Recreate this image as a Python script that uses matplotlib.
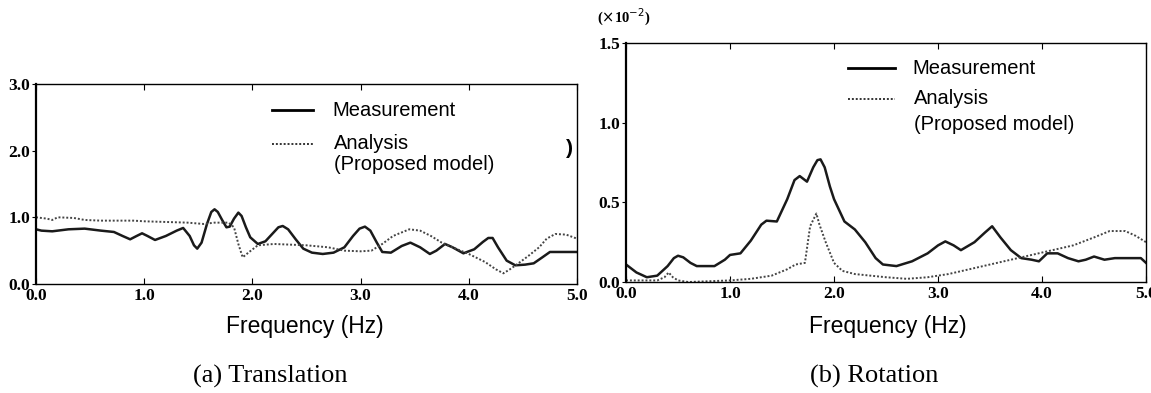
import matplotlib
matplotlib.use("Agg")
import matplotlib.pyplot as plt

# (a) Translation
trans_meas_f = [0.0, 0.05, 0.15, 0.3, 0.45, 0.6, 0.72, 0.8, 0.87, 0.93, 0.98, 1.03, 1.1,
                1.2, 1.3, 1.36, 1.42, 1.46, 1.49, 1.53, 1.58, 1.62, 1.65, 1.68, 1.72, 1.76,
                1.79, 1.83, 1.87, 1.9, 1.94, 1.98, 2.05, 2.12, 2.2, 2.24, 2.28, 2.33, 2.4,
                2.47, 2.55, 2.65, 2.75, 2.85, 2.93, 2.99, 3.04, 3.09, 3.15, 3.2, 3.28, 3.38,
                3.46, 3.55, 3.64, 3.7, 3.78, 3.85, 3.95, 4.05, 4.13, 4.18, 4.22, 4.27, 4.35,
                4.43, 4.52, 4.6, 4.68, 4.75, 4.85, 5.0]
trans_meas = [0.82, 0.80, 0.79, 0.82, 0.83, 0.80, 0.78, 0.72, 0.67, 0.72, 0.76, 0.72, 0.66,
              0.72, 0.80, 0.84, 0.72, 0.58, 0.53, 0.62, 0.90, 1.08, 1.12, 1.08, 0.96, 0.85,
              0.86, 0.98, 1.07, 1.02, 0.85, 0.70, 0.60, 0.64, 0.78, 0.85, 0.87, 0.82, 0.67,
              0.53, 0.47, 0.45, 0.47, 0.55, 0.72, 0.83, 0.86, 0.80, 0.62, 0.48, 0.47, 0.57,
              0.62, 0.55, 0.45, 0.50, 0.60, 0.55, 0.46, 0.52, 0.63, 0.69, 0.69, 0.55, 0.35,
              0.28, 0.29, 0.31, 0.40, 0.48, 0.48, 0.48]

trans_anal_f = [0.0, 0.1, 0.15, 0.2, 0.35, 0.45, 0.6, 0.9, 1.0, 1.2, 1.4, 1.55, 1.65, 1.78,
                1.83, 1.87, 1.91, 1.97, 2.05, 2.2, 2.5, 2.7, 2.85, 3.0, 3.1, 3.2, 3.3, 3.45,
                3.55, 3.65, 3.75, 3.85, 4.0, 4.15, 4.25, 4.32, 4.38, 4.45, 4.55, 4.65, 4.72,
                4.8, 4.9, 5.0]
trans_anal = [1.0, 0.98, 0.96, 1.0, 0.99, 0.96, 0.95, 0.95, 0.94, 0.93, 0.92, 0.90, 0.92, 0.92,
              0.85, 0.60, 0.40, 0.48, 0.58, 0.60, 0.58, 0.55, 0.50, 0.49, 0.50, 0.60, 0.72, 0.82,
              0.80, 0.72, 0.62, 0.55, 0.45, 0.33, 0.22, 0.16, 0.22, 0.30, 0.42, 0.55, 0.68,
              0.75, 0.74, 0.68]

# (b) Rotation (x 10^-2)
rot_meas_f = [0.0, 0.1, 0.2, 0.3, 0.4, 0.46, 0.5, 0.55, 0.62, 0.68, 0.85, 0.95, 1.0, 1.1, 1.2,
              1.3, 1.35, 1.45, 1.55, 1.62, 1.67, 1.74, 1.8, 1.84, 1.87, 1.91, 1.96, 2.0, 2.1,
              2.2, 2.3, 2.4, 2.47, 2.6, 2.75, 2.9, 3.0, 3.07, 3.15, 3.22, 3.35, 3.45, 3.52,
              3.6, 3.7, 3.8, 3.9, 3.97, 4.05, 4.15, 4.25, 4.35, 4.42, 4.5, 4.6, 4.7, 4.8,
              4.95, 5.0]
rot_meas = [0.11, 0.06, 0.03, 0.04, 0.10, 0.15, 0.165, 0.155, 0.12, 0.10, 0.10, 0.14, 0.17,
            0.18, 0.26, 0.36, 0.385, 0.38, 0.52, 0.64, 0.665, 0.63, 0.72, 0.765, 0.77, 0.72,
            0.60, 0.52, 0.38, 0.33, 0.25, 0.15, 0.11, 0.10, 0.13, 0.18, 0.23, 0.255, 0.23,
            0.20, 0.25, 0.31, 0.35, 0.28, 0.20, 0.15, 0.14, 0.13, 0.18, 0.18, 0.15, 0.13,
            0.14, 0.16, 0.14, 0.15, 0.15, 0.15, 0.12]

rot_anal_f = [0.0, 0.3, 0.37, 0.41, 0.45, 0.5, 0.6, 1.0, 1.2, 1.4, 1.55, 1.63, 1.72, 1.77, 1.83,
              1.86, 1.92, 2.0, 2.08, 2.2, 2.5, 2.7, 2.9, 3.1, 3.3, 3.5, 3.7, 3.9, 4.1, 4.3, 4.5,
              4.65, 4.8, 4.9, 5.0]
rot_anal = [0.01, 0.01, 0.03, 0.06, 0.03, 0.01, 0.0, 0.01, 0.02, 0.04, 0.08, 0.11, 0.12, 0.35,
            0.43, 0.36, 0.25, 0.12, 0.07, 0.05, 0.03, 0.02, 0.03, 0.05, 0.08, 0.11, 0.14, 0.17,
            0.20, 0.23, 0.28, 0.32, 0.32, 0.29, 0.25]

x_ticks = [0.0, 1.0, 2.0, 3.0, 4.0, 5.0]
trans_yticks = [0.0, 1.0, 2.0, 3.0]
rot_yticks = [0.0, 0.5, 1.0, 1.5]

serif = "Liberation Serif"
sans = "Liberation Sans"

fig = plt.figure(figsize=(11.51, 3.93), dpi=100)
ax1 = fig.add_axes([0.0313, 0.2774, 0.470, 0.509])
ax2 = fig.add_axes([0.5439, 0.2824, 0.4518, 0.608])


def style(ax, yticks, ymax):
    ax.set_xlim(0, 5)
    ax.set_ylim(0, ymax)
    ax.set_xticks(x_ticks)
    ax.set_yticks(yticks)
    ax.set_xticklabels(["%.1f" % t for t in x_ticks], fontfamily=serif,
                       fontweight="bold", fontsize=12.5)
    ax.set_yticklabels(["%.1f" % t for t in yticks], fontfamily=serif,
                       fontweight="bold", fontsize=12.5)
    ax.tick_params(axis="x", direction="in", length=4, pad=3, top=True)
    ax.tick_params(axis="y", direction="out", length=3, pad=1)
    for s in ax.spines.values():
        s.set_linewidth(1.0)
    ax.spines["left"].set_linewidth(1.6)


ax1.plot(trans_meas_f, trans_meas, color="#1a1a1a", lw=1.8)
ax1.plot(trans_anal_f, trans_anal, color="#444444", lw=1.4, linestyle=(0, (1, 1)))
style(ax1, trans_yticks, 3.0)

ax2.plot(rot_meas_f, rot_meas, color="#1a1a1a", lw=1.8)
ax2.plot(rot_anal_f, rot_anal, color="#444444", lw=1.4, linestyle=(0, (1, 1)))
style(ax2, rot_yticks, 1.5)


def px(x, y):
    return x / 1151.0, 1 - y / 393.0


def legend(x_line0, x_line1, x_text, y_meas, y_anal, y_model):
    fig.add_artist(plt.Line2D([px(x_line0, 0)[0], px(x_line1, 0)[0]],
                              [px(0, y_meas)[1]] * 2, color="black", lw=2))
    fig.add_artist(plt.Line2D([px(x_line0, 0)[0], px(x_line1, 0)[0]],
                              [px(0, y_anal)[1]] * 2, color="#333333", lw=1.4,
                              linestyle=(0, (1, 1))))
    fig.text(*px(x_text, y_meas), "Measurement", fontfamily=sans, fontsize=14.5, va="center")
    fig.text(*px(x_text + 2, y_anal), "Analysis", fontfamily=sans, fontsize=14.5, va="center")
    fig.text(*px(x_text + 2, y_model), "(Proposed model)", fontfamily=sans, fontsize=14.5,
             va="center")


legend(272, 313, 332, 110, 144, 165)
legend(848, 895, 912, 68, 99, 125)

fig.text(*px(566, 148), ")", fontfamily=sans, fontsize=15, fontweight="bold", va="center")
fig.text(*px(597, 17), r"($\times$10$^{-2}$)", fontfamily=serif, fontsize=10.5,
         fontweight="bold", va="center")

fig.text(*px(305, 326), "Frequency (Hz)", fontfamily=sans, fontsize=16.5, ha="center",
         va="center")
fig.text(*px(888, 326), "Frequency (Hz)", fontfamily=sans, fontsize=16.5, ha="center",
         va="center")
fig.text(*px(270, 376), "(a) Translation", fontfamily=serif, fontsize=19, ha="center",
         va="center")
fig.text(*px(874, 376), "(b) Rotation", fontfamily=serif, fontsize=19, ha="center",
         va="center")

fig.savefig("out.png", dpi=100)
